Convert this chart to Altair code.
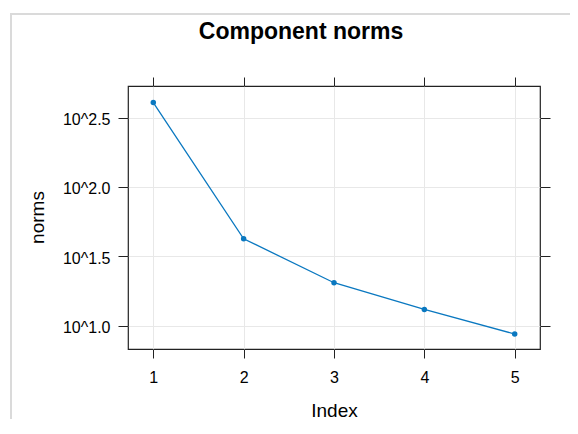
import altair as alt
import pandas as pd

# data
index = [1, 2, 3, 4, 5]
norms = [405.5, 42.3, 20.4, 13.1, 8.71]
y_tick_exps = [1.0, 1.5, 2.0, 2.5]
x_ticks = [1, 2, 3, 4, 5]

df = pd.DataFrame({"Index": index, "norms": norms})
y_ticks = [10 ** e for e in y_tick_exps]

line_color = "#0a78c0"
ink = "#222222"
FONT = "Liberation Sans"

x_scale = alt.Scale(domain=[0.72, 5.28], nice=False, zero=False)
y_scale = alt.Scale(type="log", domain=[10 ** 0.832, 10 ** 2.727], nice=False)

x_bottom = alt.X(
    "Index:Q",
    scale=x_scale,
    axis=alt.Axis(
        orient="bottom", values=x_ticks, format="d", title="Index",
        tickSize=9, tickColor=ink, domain=False, labelPadding=11,
        labelFontSize=16, labelColor="#000000", labelFont=FONT,
        titleFont=FONT, titleFontSize=19, titleFontWeight="normal",
        titleColor="#000000", titleBaseline="alphabetic", titleY=67,
        grid=True, gridColor="#e8e8e8", gridWidth=1,
    ),
)
y_left = alt.Y(
    "norms:Q",
    scale=y_scale,
    axis=alt.Axis(
        orient="left", values=y_ticks, title="norms",
        labelExpr="'10^' + format(log(datum.value) / LN10, '.1f')",
        tickSize=10, tickColor=ink, domain=False, labelPadding=8,
        labelFontSize=16, labelColor="#000000", labelFont=FONT, labelOffset=2,
        titleFont=FONT, titleFontSize=19, titleFontWeight="normal",
        titleColor="#000000", titleBaseline="alphabetic", titleAngle=-90,
        titleX=-85, titleY=131,
        grid=True, gridColor="#e8e8e8", gridWidth=1,
    ),
)

frame = alt.Chart(alt.Data(values=[{"f": 1}])).mark_rect(
    fillOpacity=0, stroke="#dadada", strokeWidth=2
).encode(
    x=alt.value(-117), x2=alt.value(520), y=alt.value(-72), y2=alt.value(420)
)

line = alt.Chart(df).mark_line(color=line_color, strokeWidth=1.3).encode(
    x=x_bottom, y=y_left
)
pts = alt.Chart(df).mark_circle(color=line_color, size=30, opacity=1).encode(
    x=alt.X("Index:Q", scale=x_scale), y=alt.Y("norms:Q", scale=y_scale)
)

mirror = alt.Chart(df).mark_circle(opacity=0).encode(
    x=alt.X(
        "Index:Q", scale=x_scale,
        axis=alt.Axis(orient="top", values=x_ticks, labels=False, title=None,
                      tickSize=9, tickColor=ink, domain=False, grid=False),
    ),
    y=alt.Y(
        "norms:Q", scale=y_scale,
        axis=alt.Axis(orient="right", values=y_ticks, labels=False, title=None,
                      tickSize=10, tickColor=ink, domain=False, grid=False),
    ),
)

data_layer = alt.layer(line, pts)

chart = (
    alt.layer(frame, data_layer, mirror)
    .resolve_axis(x="independent", y="independent")
    .properties(
        width=412,
        height=263,
        autosize=alt.AutoSizeParams(type="none"),
        padding={"left": 120, "top": 78, "right": 30, "bottom": 70},
        title=alt.TitleParams(
            "Component norms", font=FONT, fontSize=23, fontWeight="bold",
            color="#000000", anchor="middle", baseline="alphabetic",
            offset=-49, dx=-33,
        ),
    )
    .configure_view(stroke=ink, strokeWidth=1.2)
)

chart.save("out.html", embed_options={"renderer": "svg", "actions": False})
